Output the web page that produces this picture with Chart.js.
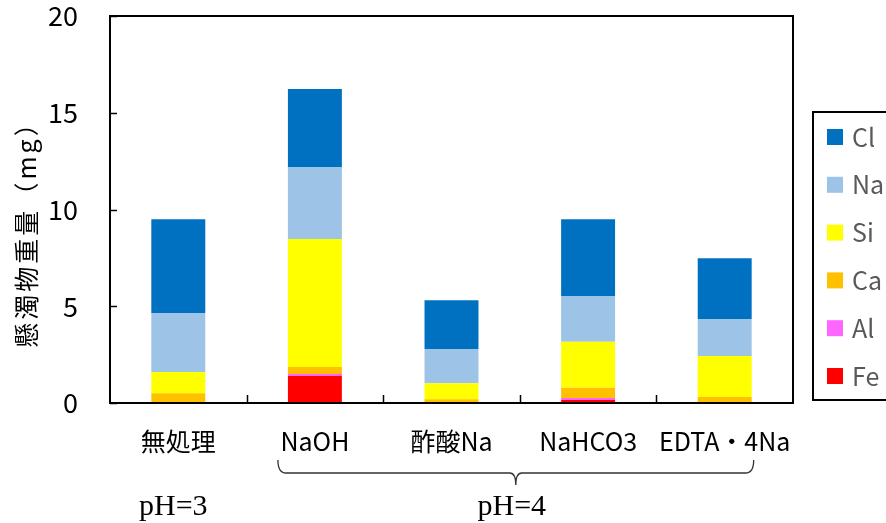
<!DOCTYPE html>
<html>
<head>
<meta charset="utf-8">
<script src="https://cdn.jsdelivr.net/npm/chart.js@4.4.1/dist/chart.umd.min.js"></script>
<style>
  html, body { margin: 0; padding: 0; background: #fff; }
</style>
</head>
<body>
<canvas id="chart" width="886" height="523"></canvas>
<script>
// kategori perlakuan
const categories = ['無処理', 'NaOH', '酢酸Na', 'NaHCO3', 'EDTA・4Na'];
const phLabels = ['pH=3', 'pH=4'];
const yTitle = '懸濁物重量（mg）';

// nilai per unsur (mg)
const feValues = [0, 1.40, 0, 0.15, 0];
const alValues = [0, 0.10, 0, 0.11, 0];
const caValues = [0.50, 0.36, 0.19, 0.53, 0.31];
const siValues = [1.10, 6.62, 0.83, 2.38, 2.12];
const naValues = [3.05, 3.72, 1.77, 2.36, 1.91];
const clValues = [4.85, 4.03, 2.52, 3.97, 3.14];

const yTicks = [0, 5, 10, 15, 20];

const JP = "'Noto Sans CJK JP', 'Noto Sans', sans-serif";

// urutan dari bawah ke atas
const series = [
  { label: 'Fe', data: feValues, color: '#FF0000' },
  { label: 'Al', data: alValues, color: '#FF66FF' },
  { label: 'Ca', data: caValues, color: '#FFC000' },
  { label: 'Si', data: siValues, color: '#FFFF00' },
  { label: 'Na', data: naValues, color: '#9DC3E6' },
  { label: 'Cl', data: clValues, color: '#0070C0' }
];

// bingkai, tanda tick ke dalam, judul sumbu, legend, kurung kurawal
const extras = {
  id: 'extras',
  afterDraw(chart) {
    const ctx = chart.ctx;
    const a = chart.chartArea;
    const x = chart.scales.x;
    const y = chart.scales.y;
    ctx.save();

    // tick ke dalam
    ctx.strokeStyle = '#000';
    ctx.lineWidth = 1.5;
    ctx.beginPath();
    yTicks.forEach(v => {
      const py = Math.round(y.getPixelForValue(v)) + 0.5;
      ctx.moveTo(a.left, py);
      ctx.lineTo(a.left + 7, py);
    });
    for (let i = 1; i < categories.length; i++) {
      const px = Math.round((x.getPixelForValue(i - 1) + x.getPixelForValue(i)) / 2) + 0.5;
      ctx.moveTo(px, a.bottom);
      ctx.lineTo(px, a.bottom - 8);
    }
    ctx.stroke();

    // bingkai plot
    ctx.lineWidth = 2;
    ctx.strokeStyle = '#000';
    ctx.strokeRect(a.left, a.top, a.right - a.left, a.bottom - a.top);

    // judul sumbu Y
    ctx.save();
    ctx.translate(26, 228);
    ctx.rotate(-Math.PI / 2);
    ctx.font = '25px ' + JP;
    ctx.fillStyle = '#000';
    ctx.textAlign = 'center';
    ctx.textBaseline = 'middle';
    if ('letterSpacing' in ctx) ctx.letterSpacing = '3px';
    ctx.fillText(yTitle, 0, 0);
    ctx.restore();

    // legend
    ctx.lineWidth = 2;
    ctx.strokeStyle = '#000';
    ctx.strokeRect(813, 112, 90, 288);
    const legendItems = chart.data.datasets.slice().reverse();
    ctx.font = '25px ' + JP;
    ctx.textAlign = 'left';
    ctx.textBaseline = 'middle';
    legendItems.forEach((ds, i) => {
      const cy = 137 + i * 47.8;
      ctx.fillStyle = ds.backgroundColor;
      ctx.fillRect(827, cy - 8, 16, 16);
      ctx.fillStyle = '#595959';
      ctx.fillText(ds.label, 852, cy);
    });

    // kurung kurawal pH=4
    const bx1 = x.getPixelForValue(1) - 37;
    const bx2 = x.getPixelForValue(4) + 29;
    const bm = (bx1 + bx2) / 2;
    const top = 460, mid = 473, tip = 485;
    ctx.strokeStyle = '#333';
    ctx.lineWidth = 1.3;
    ctx.beginPath();
    ctx.moveTo(bx1, top);
    ctx.quadraticCurveTo(bx1, mid, bx1 + 8, mid);
    ctx.lineTo(bm - 6, mid);
    ctx.quadraticCurveTo(bm, mid, bm, tip);
    ctx.quadraticCurveTo(bm, mid, bm + 6, mid);
    ctx.lineTo(bx2 - 8, mid);
    ctx.quadraticCurveTo(bx2, mid, bx2, top);
    ctx.stroke();

    // label pH
    ctx.font = '30px "Liberation Serif", "DejaVu Serif", serif';
    ctx.fillStyle = '#000';
    ctx.textAlign = 'center';
    ctx.textBaseline = 'middle';
    ctx.fillText(phLabels[0], x.getPixelForValue(0) - 5, 507);
    ctx.fillText(phLabels[1], bm - 4, 507);

    ctx.restore();
  }
};

const ctx = document.getElementById('chart').getContext('2d');
const chart = new Chart(ctx, {
  type: 'bar',
  data: {
    labels: categories,
    datasets: series.map(s => ({
      label: s.label,
      data: s.data,
      backgroundColor: s.color,
      borderWidth: 0,
      barPercentage: 0.395,
      categoryPercentage: 1
    }))
  },
  options: {
    responsive: false,
    animation: false,
    devicePixelRatio: 1,
    layout: { padding: { top: 16, right: 93, left: 0, bottom: 0 } },
    plugins: {
      legend: { display: false },
      tooltip: { enabled: false }
    },
    scales: {
      x: {
        stacked: true,
        grid: { display: false },
        border: { display: false },
        ticks: {
          color: '#000',
          padding: 15,
          font: { family: JP, size: 25 },
          maxRotation: 0,
          autoSkip: false
        },
        afterFit(scale) {
          scale.height = 120;
          scale.paddingLeft = 0;
          scale.paddingRight = 0;
        }
      },
      y: {
        stacked: true,
        min: 0,
        max: 20,
        grid: { display: false },
        border: { display: false },
        ticks: {
          stepSize: 5,
          color: '#000',
          padding: 24,
          font: { family: JP, size: 27 }
        },
        afterFit(scale) {
          scale.width = 110;
          scale.paddingTop = 0;
          scale.paddingBottom = 0;
        }
      }
    }
  },
  plugins: [extras]
});
</script>
</body>
</html>
